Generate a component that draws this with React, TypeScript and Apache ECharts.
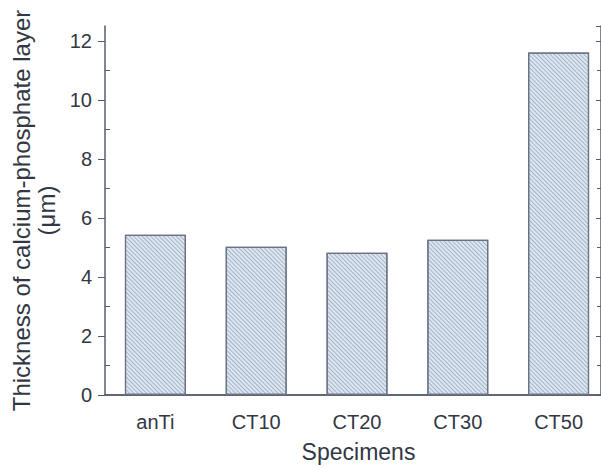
import React, { useEffect, useRef } from "react";
import * as echarts from "echarts";

const categories = ["anTi", "CT10", "CT20", "CT30", "CT50"];
const thickness = [5.43, 5.02, 4.82, 5.26, 11.6];
const yMin = 0;
const yMax = 12.5;
const yInterval = 2;

const axisColor = "#555c6c";
const textColor = "#323744";
const font = "'Liberation Sans', Arial, sans-serif";

export default function App() {
  const ref = useRef<HTMLDivElement>(null);
  useEffect(() => {
    if (!ref.current) return;
    const chart = echarts.init(ref.current, null, { renderer: "svg" });
    const yBase = {
      type: "value",
      min: yMin,
      max: yMax,
      interval: yInterval,
      splitLine: { show: false },
    };
    chart.setOption({
      animation: false,
      backgroundColor: "#ffffff",
      grid: { left: 105, top: 26, width: 504, height: 371 },
      xAxis: [
        {
          type: "category",
          data: categories,
          position: "bottom",
          axisLine: { lineStyle: { color: axisColor, width: 1.5 } },
          axisTick: { alignWithLabel: true, length: 6, lineStyle: { color: axisColor } },
          axisLabel: { color: textColor, fontSize: 20, fontFamily: font, margin: 17 },
          name: "Specimens",
          nameLocation: "middle",
          nameGap: 45,
          nameTextStyle: { color: textColor, fontSize: 23, fontFamily: font, padding: [0, 0, 0, 3] },
        },
        {
          type: "category",
          data: categories,
          position: "top",
          axisLine: { lineStyle: { color: axisColor, width: 1.5 } },
          axisTick: { alignWithLabel: true, inside: true, length: 5, lineStyle: { color: axisColor } },
          axisLabel: { show: false },
        },
      ],
      yAxis: [
        {
          ...yBase,
          position: "left",
          axisLine: { show: true, lineStyle: { color: axisColor, width: 1.5 } },
          axisTick: { show: true, length: 7, lineStyle: { color: axisColor } },
          axisLabel: { color: textColor, fontSize: 20, fontFamily: font, margin: 13 },
          name: "Thickness of calcium-phosphate layer\n(μm)",
          nameLocation: "middle",
          nameRotate: 90,
          nameGap: 46,
          nameTextStyle: { color: textColor, fontSize: 24, fontFamily: font, lineHeight: 25, align: "center" },
        },
        {
          ...yBase,
          position: "left",
          axisLine: { show: false },
          axisTick: { show: false, inside: true },
          minorTick: { show: true, splitNumber: 2, length: 5, lineStyle: { color: axisColor } },
          axisLabel: { show: false },
        },
        {
          ...yBase,
          position: "right",
          offset: -8,
          axisLine: { show: true, lineStyle: { color: axisColor, width: 1.5 } },
          axisTick: { show: true, inside: true, length: 5, lineStyle: { color: axisColor } },
          minorTick: { show: true, splitNumber: 2, length: 4, lineStyle: { color: axisColor } },
          axisLabel: { show: false },
        },
      ],
      series: [
        {
          type: "bar",
          xAxisIndex: 0,
          yAxisIndex: 0,
          data: thickness,
          barWidth: 61,
          itemStyle: {
            color: "#dde7f1",
            borderColor: "#6b7282",
            borderWidth: 1.2,
            decal: {
              symbol: "rect",
              symbolSize: 1,
              dashArrayX: [1, 0],
              dashArrayY: [1, 2],
              rotation: Math.PI / 4,
              color: "rgba(110,128,155,0.5)",
            },
          },
        },
      ],
    });
    return () => chart.dispose();
  }, []);
  return (
    <div style={{ width: 601, height: 468, position: "absolute", left: 0, top: 0, overflow: "hidden" }}>
      <div ref={ref} style={{ width: 610, height: 468 }} />
    </div>
  );
}
